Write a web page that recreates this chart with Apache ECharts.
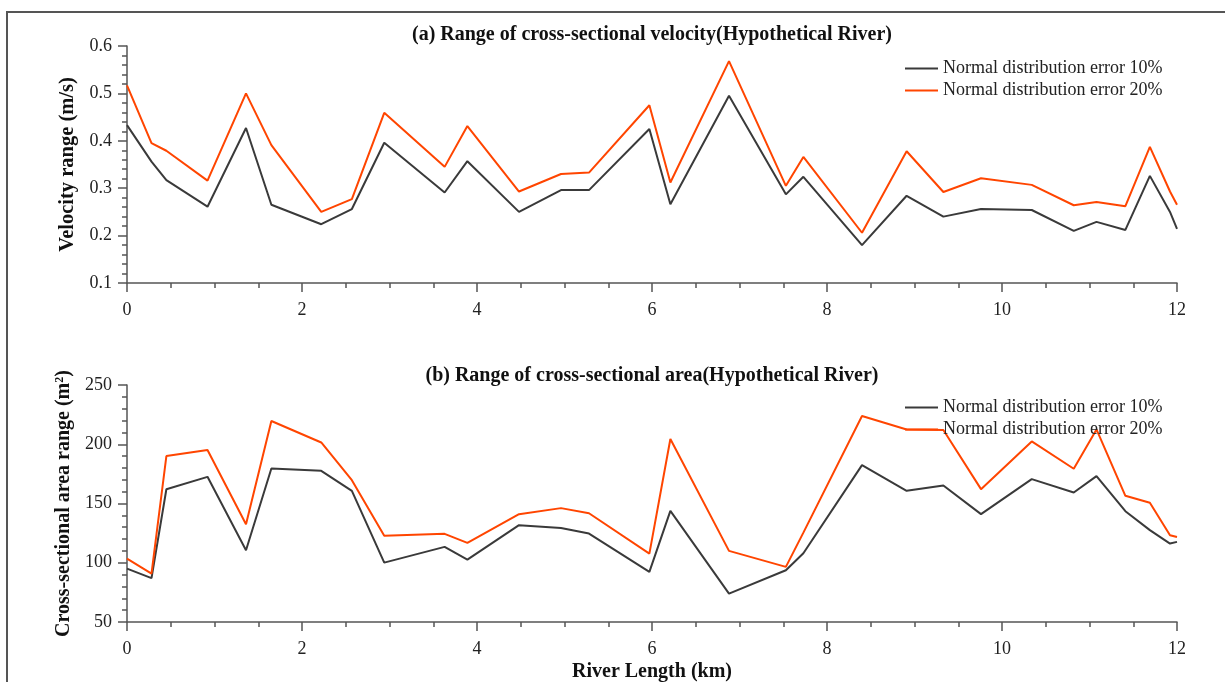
<!DOCTYPE html>
<html>
<head>
<meta charset="utf-8">
<script src="https://cdn.jsdelivr.net/npm/echarts@6/dist/echarts.min.js"></script>
<style>
html, body { margin: 0; padding: 0; background: #fff; }
#chart { width: 1225px; height: 682px; }
</style>
</head>
<body>
<div id="chart"></div>
<script>
// river length (km) of each cross-section
const riverKm = [0, 0.28, 0.45, 0.92, 1.36, 1.65, 2.22, 2.57, 2.94, 3.63, 3.89, 4.48, 4.96, 5.28, 5.97,
  6.21, 6.88, 7.53, 7.73, 8.40, 8.91, 9.33, 9.76, 10.34, 10.82, 11.08, 11.41, 11.69, 11.92, 12];

// (a) velocity range (m/s)
const velErr10 = [0.433, 0.356, 0.317, 0.261, 0.427, 0.265, 0.224, 0.256, 0.396, 0.291, 0.357, 0.250, 0.296, 0.296, 0.425,
  0.266, 0.495, 0.287, 0.324, 0.180, 0.284, 0.240, 0.256, 0.254, 0.210, 0.229, 0.212, 0.326, 0.250, 0.214];
const velErr20 = [0.517, 0.395, 0.379, 0.316, 0.500, 0.391, 0.250, 0.277, 0.459, 0.345, 0.431, 0.293, 0.330, 0.333, 0.475,
  0.312, 0.568, 0.305, 0.366, 0.206, 0.378, 0.292, 0.321, 0.307, 0.264, 0.271, 0.262, 0.387, 0.293, 0.265];

// (b) cross-sectional area range (m2)
const areaErr10 = [95, 87, 162, 172.5, 110.6, 179.6, 177.6, 160.7, 100.1, 113.4, 102.7, 131.7, 129.4, 124.6, 92.3,
  143.8, 74, 93.7, 108, 182.4, 160.7, 165.2, 141, 170.6, 159.3, 173.1, 143.5, 127.5, 116.2, 117.6];
const areaErr20 = [103.5, 90.9, 190, 195.1, 132.5, 219.6, 201.5, 169.7, 122.7, 124.4, 116.8, 141, 146.1, 141.8, 107.7,
  204.4, 110, 96.5, 125.4, 223.8, 212.5, 212, 162.1, 202.4, 179.3, 212.5, 156.5, 150.6, 123.2, 121.8];

const seriesNames = ['Normal distribution error 10%', 'Normal distribution error 20%'];
const titles = ['(a) Range of cross-sectional velocity(Hypothetical River)', '(b) Range of cross-sectional area(Hypothetical River)'];

const FONT = "'Liberation Serif', 'Times New Roman', serif";
const AXIS_COLOR = '#555';
const colors = ['#3a3a3a', '#ff4500'];

function pairs(xs, ys) {
  return xs.map((x, i) => [x, ys[i]]);
}

function makeX(gridIndex, name) {
  return {
    type: 'value', gridIndex: gridIndex, min: 0, max: 12, interval: 2,
    name: name, nameLocation: 'middle', nameGap: 40,
    nameTextStyle: { fontFamily: FONT, fontWeight: 'bold', fontSize: 20, color: '#111' },
    axisLine: { show: true, lineStyle: { color: AXIS_COLOR, width: 1.5 } },
    axisTick: { show: true, length: 9, lineStyle: { color: AXIS_COLOR, width: 1.5 } },
    minorTick: { show: true, splitNumber: 4, length: 5, lineStyle: { color: AXIS_COLOR, width: 1.5 } },
    axisLabel: { fontFamily: FONT, fontSize: 18, color: '#222', margin: 18 },
    splitLine: { show: false }
  };
}

function makeY(gridIndex, min, max, interval, name, gap, nameSize) {
  return {
    type: 'value', gridIndex: gridIndex, min: min, max: max, interval: interval,
    name: name, nameLocation: 'middle', nameGap: gap,
    nameTextStyle: {
      fontFamily: FONT, fontWeight: 'bold', fontSize: nameSize, color: '#111',
      rich: { sup: { fontFamily: FONT, fontWeight: 'bold', fontSize: 12, verticalAlign: 'top', padding: [0, 0, 9, 0] } }
    },
    axisLine: { show: true, lineStyle: { color: AXIS_COLOR, width: 1.5 } },
    axisTick: { show: true, length: 9, lineStyle: { color: AXIS_COLOR, width: 1.5 } },
    minorTick: { show: true, splitNumber: 5, length: 5, lineStyle: { color: AXIS_COLOR, width: 1.5 } },
    axisLabel: { fontFamily: FONT, fontSize: 18, color: '#222', margin: 15 },
    splitLine: { show: false }
  };
}

function makeLine(name, xi, data, color) {
  return {
    name: name, type: 'line', xAxisIndex: xi, yAxisIndex: xi,
    data: data, symbol: 'none', showSymbol: false,
    lineStyle: { color: color, width: 2 }, itemStyle: { color: color },
    animation: false
  };
}

function makeLegend(top) {
  return {
    data: seriesNames, orient: 'vertical', left: 905, top: top, padding: 0,
    icon: 'rect', itemWidth: 33, itemHeight: 2, itemGap: 1,
    textStyle: { fontFamily: FONT, fontSize: 18, color: '#222', lineHeight: 21 }
  };
}

let chart = echarts.init(document.getElementById('chart'));
let option = {
  backgroundColor: '#fff',
  animation: false,
  title: [
    { text: titles[0], left: 652, top: 25, padding: 0, textAlign: 'center',
      textStyle: { fontFamily: FONT, fontWeight: 'bold', fontSize: 20, color: '#111' } },
    { text: titles[1], left: 652, top: 366, padding: 0, textAlign: 'center',
      textStyle: { fontFamily: FONT, fontWeight: 'bold', fontSize: 20, color: '#111' } }
  ],
  legend: [makeLegend(58), makeLegend(397)],
  grid: [
    { left: 127, width: 1050, top: 46, height: 237, outerBoundsMode: 'none', containLabel: false },
    { left: 127, width: 1050, top: 385, height: 237, outerBoundsMode: 'none', containLabel: false }
  ],
  xAxis: [makeX(0, ''), makeX(1, 'River Length (km)')],
  yAxis: [
    makeY(0, 0.1, 0.6, 0.1, 'Velocity range (m/s)', 42, 20.5),
    makeY(1, 50, 250, 50, 'Cross-sectional area range (m{sup|2})', 47, 20)
  ],
  graphic: [
    { type: 'rect', shape: { x: 7, y: 12, width: 1240, height: 700 },
      style: { fill: 'none', stroke: '#555', lineWidth: 2 }, silent: true }
  ],
  series: [
    makeLine(seriesNames[0], 0, pairs(riverKm, velErr10), colors[0]),
    makeLine(seriesNames[1], 0, pairs(riverKm, velErr20), colors[1]),
    makeLine(seriesNames[0], 1, pairs(riverKm, areaErr10), colors[0]),
    makeLine(seriesNames[1], 1, pairs(riverKm, areaErr20), colors[1])
  ]
};
chart.setOption(option);
</script>
</body>
</html>
